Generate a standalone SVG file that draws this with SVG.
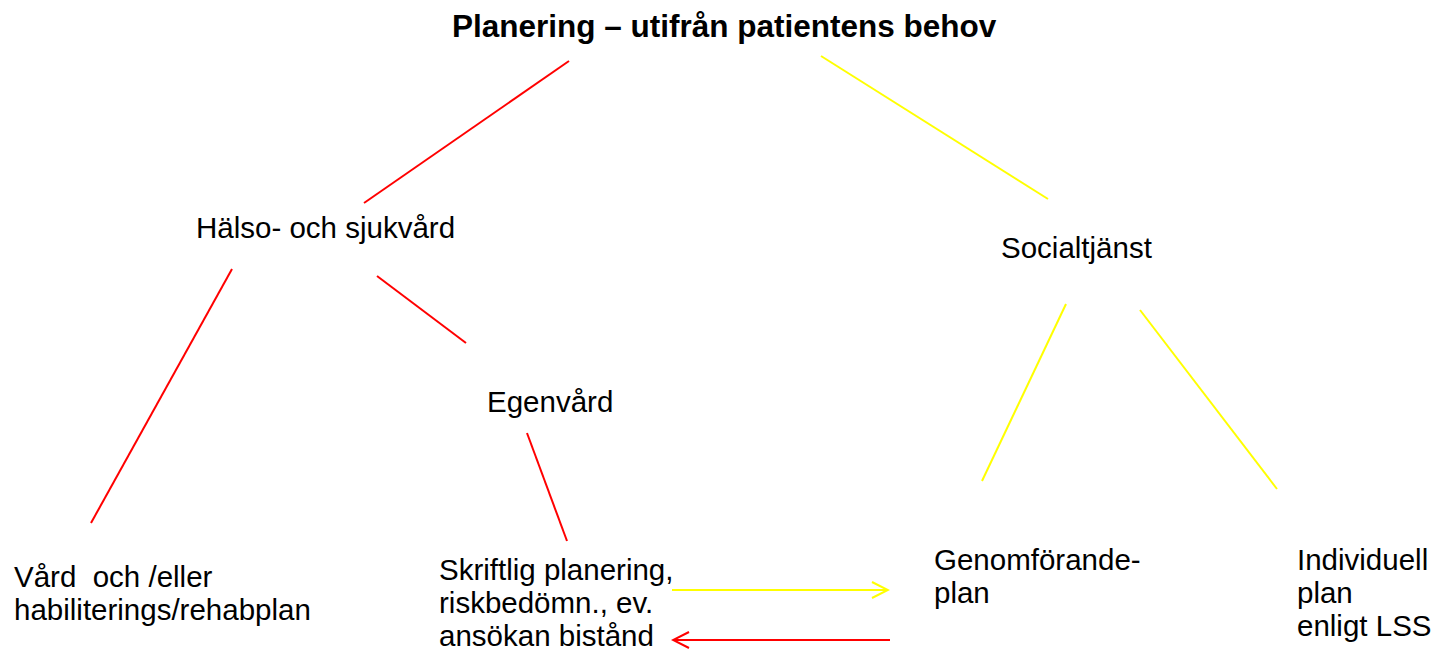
<svg xmlns="http://www.w3.org/2000/svg" width="1437" height="654" viewBox="0 0 1437 654">
<style>
text{font-family:"Liberation Sans",Arial,sans-serif;font-size:29.5px;fill:#000}
.title{font-weight:bold;font-size:31.5px}
.r{stroke:#ff0000;stroke-width:2;fill:none}
.y{stroke:#ffff00;stroke-width:2;fill:none}
</style>
<defs>
<marker id="ay" markerWidth="20" markerHeight="20" refX="18" refY="10" orient="auto" markerUnits="userSpaceOnUse"><path d="M2,2 L18,10 L2,18" class="y"/></marker>
<marker id="ar" markerWidth="20" markerHeight="20" refX="18" refY="10" orient="auto" markerUnits="userSpaceOnUse"><path d="M2,2 L18,10 L2,18" class="r"/></marker>
</defs>
<rect width="1437" height="654" fill="#fff"/>
<g id="connectors">
<line class="r" x1="569" y1="61" x2="364" y2="203"/>
<line class="r" x1="232" y1="269" x2="91" y2="523"/>
<line class="r" x1="377" y1="276" x2="466" y2="343"/>
<line class="r" x1="527" y1="433" x2="567" y2="541"/>
<line class="y" x1="821" y1="56" x2="1048" y2="199"/>
<line class="y" x1="1066" y1="304" x2="982" y2="481"/>
<line class="y" x1="1140" y1="310" x2="1277" y2="489"/>
<line class="y" x1="672" y1="590" x2="888" y2="590" marker-end="url(#ay)"/>
<line class="r" x1="890" y1="640" x2="673" y2="640" marker-end="url(#ar)"/>
</g>
<g id="title"><text class="title" x="452" y="37">Planering – utifrån patientens behov</text></g>
<g id="halso"><text x="196" y="238">Hälso- och sjukvård</text></g>
<g id="social"><text x="1001" y="258">Socialtjänst</text></g>
<g id="egenvard"><text x="487" y="412">Egenvård</text></g>
<g id="vard"><text x="14" y="587" xml:space="preserve" style="white-space:pre">Vård  och /eller</text><text x="14" y="620">habiliterings/rehabplan</text></g>
<g id="skriftlig"><text x="439" y="580">Skriftlig planering,</text><text x="439" y="613">riskbedömn., ev.</text><text x="439" y="646">ansökan bistånd</text></g>
<g id="genomforande"><text x="934" y="570">Genomförande-</text><text x="934" y="603">plan</text></g>
<g id="individuell"><text x="1297" y="570">Individuell</text><text x="1297" y="603">plan</text><text x="1297" y="636">enligt LSS</text></g>
</svg>
